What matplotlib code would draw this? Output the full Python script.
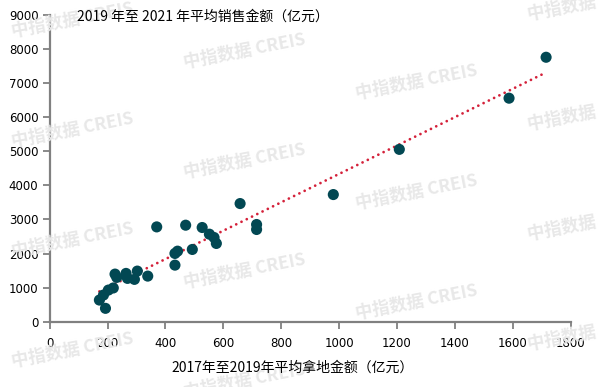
import numpy as np
import matplotlib
matplotlib.use("Agg")
import matplotlib.pyplot as plt

# Data (亿元)
land_amount = [172, 186, 203, 220, 193, 226, 232, 264, 269, 293, 303, 339, 370,
               433, 442, 433, 470, 493, 527, 552, 568, 576, 658, 715, 715, 980,
               1208, 1587, 1715]
sales_amount = [635, 782, 928, 990, 392, 1397, 1300, 1417, 1271, 1242, 1485, 1338,
                2782, 2003, 2070, 1660, 2832, 2120, 2764, 2568, 2471, 2296, 3467,
                2852, 2706, 3731, 5057, 6559, 7760]
x_ticks = [0, 200, 400, 600, 800, 1000, 1200, 1400, 1600, 1800]
y_ticks = [0, 1000, 2000, 3000, 4000, 5000, 6000, 7000, 8000, 9000]
y_title = "2019 年至 2021 年平均销售金额（亿元）"
x_title = "2017年至2019年平均拿地金额（亿元）"
watermark = "中指数据 CREIS"

cjk = ["Noto Sans CJK SC", "DejaVu Sans"]

fig = plt.figure(figsize=(5.98, 3.87), dpi=100)
ax = fig.add_axes([49.6 / 598, 1 - 321.7 / 387, (570.7 - 49.6) / 598, (321.7 - 15) / 387])

# watermarks (tiled, partly clipped at the figure edges as in the reference)
for c in range(4):
    for r in range(-1, 4):
        cx = 73 + 172 * c
        cy = 20 + 31 * c + 110 * r
        if cy < -5 or cy > 395:
            continue
        fig.text(cx / 598, 1 - cy / 387, watermark, family=cjk, fontsize=12.5,
                 fontweight="bold", color="#E8E8E8", rotation=11,
                 ha="center", va="center", zorder=0)

xs = np.array(land_amount, dtype=float)
ys = np.array(sales_amount, dtype=float)
k, b = np.polyfit(xs, ys, 1)
xl = np.array([xs.min(), xs.max()])
ax.plot(xl, k * xl + b, color="#D4213A", linewidth=2.0,
        linestyle=(0, (0.01, 2.1)), dash_capstyle="round", zorder=2)

ax.scatter(xs, ys, s=64, color="#024853", edgecolors="none", zorder=3)

ax.set_xlim(0, 1800)
ax.set_ylim(0, 9000)
ax.set_xticks(x_ticks)
ax.set_yticks(y_ticks)
ax.tick_params(axis="both", direction="out", length=5, width=1.3, color="#808080",
               labelsize=8.5, labelcolor="#000000", pad=3)
ax.tick_params(axis="x", pad=6)
for s in ["top", "right"]:
    ax.spines[s].set_visible(False)
for s in ["left", "bottom"]:
    ax.spines[s].set_color("#808080")
    ax.spines[s].set_linewidth(1.6)
ax.patch.set_alpha(0)

fig.text(77 / 598, 1 - 17 / 387, y_title, family=cjk, fontsize=10,
         ha="left", va="center")
fig.text(293 / 598, 1 - 368 / 387, x_title, family=cjk, fontsize=10,
         ha="center", va="center")

fig.savefig("out.png", dpi=100)
